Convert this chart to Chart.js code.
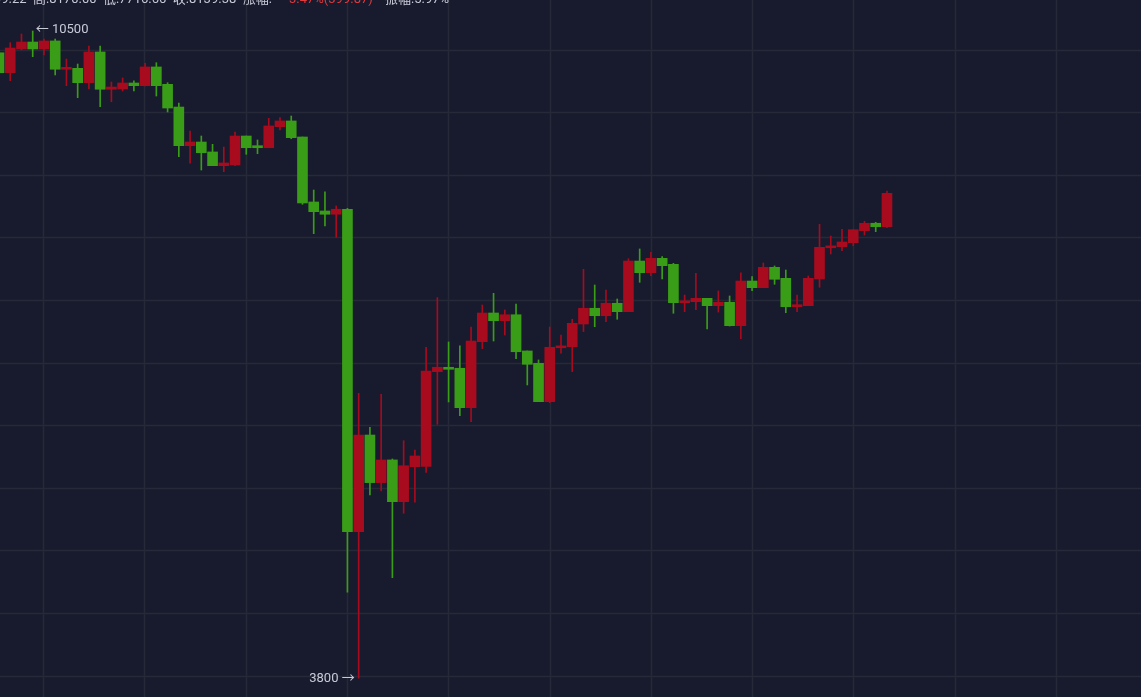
<!DOCTYPE html>
<html><head><meta charset="utf-8">
<script src="https://cdn.jsdelivr.net/npm/chart.js@4/dist/chart.umd.min.js"></script>
<style>html,body{margin:0;padding:0;background:#181b2d;overflow:hidden}#w{width:1141px;height:697px}</style>
</head><body><div id="w"><canvas id="c"></canvas></div>
<script>
const opens  = [10275,10068,10314,10386,10314,10397,10104,10114,9965,10283,9897,9900,9962,9934,10128,9948,9713,9313,9351,9248,9106,9113,9413,9313,9292,9510,9569,9403,8730,8637,8603,8655,5317,6318,5825,6060,5628,5990,5994,6974,7019,7009,6601,7284,7581,7501,7563,7188,7060,6663,7222,7232,7467,7630,7553,7682,7595,8119,7998,8147,8085,7688,7698,7733,7657,7692,7450,7912,7843,8054,7940,7646,7657,7933,8257,8267,8309,8433,8510,8474];
const closes = [10068,10324,10386,10314,10397,10104,10124,9965,10283,9897,9920,9962,9934,10128,9934,9703,9313,9351,9240,9106,9134,9413,9292,9292,9517,9569,9396,8720,8630,8603,8655,5317,6318,5825,6060,5628,6000,6101,6981,7019,6998,6601,7291,7581,7501,7563,7180,7050,6663,7226,7240,7474,7630,7553,7682,7595,8119,7998,8147,8071,7688,7705,7733,7657,7692,7450,7912,7843,8054,7930,7646,7667,7940,8261,8275,8316,8443,8510,8474,8820];
const highs  = [10303,10379,10469,10500,10417,10417,10210,10158,10345,10345,9972,10014,9983,10166,10172,9965,9755,9465,9413,9327,9299,9455,9413,9372,9596,9603,9620,9403,8854,8834,8689,8665,6750,6398,6740,6070,6259,6163,7226,7740,7281,7240,7436,7664,7785,7612,7674,7188,7095,7436,7353,7516,8033,7871,7819,7726,8143,8244,8209,8164,8095,7767,7992,7733,7809,7757,7998,7957,8099,8068,8026,7767,7964,8499,8378,8447,8443,8530,8520,8844];
const lows   = [10045,9986,10305,10234,10252,10045,9934,9810,9900,9717,9768,9879,9879,9931,9827,9662,9199,9131,9061,9106,9044,9106,9224,9230,9292,9475,9385,8706,8402,8482,8365,4690,3800,5697,5739,4841,5508,5622,5932,6429,6660,6518,6456,7212,7291,7353,7108,6836,6663,6653,7164,6974,7388,7439,7491,7516,7595,7899,7967,7933,7578,7595,7615,7415,7591,7446,7315,7812,7843,7878,7584,7595,7657,7847,8192,8226,8278,8388,8423,8465];
const headerParts = [["99.22  高:8170.00  低:7716.66  收:8139.38  涨幅:",-6,"#c8cad8"],["3.47%(399.87)",289,"#e0393e"],["振幅:5.97%",385,"#c8cad8"]];
const maxLabel = "← 10500", minLabel = "3800 →";

const RED="#a80a1e", GREEN="#3a9d17";
const idx = opens.map((_,i)=>i);
const col = idx.map(i=>closes[i]>=opens[i]?RED:GREEN);
const wick = idx.map(i=>({x:i,y:[lows[i],highs[i]]}));
const body = idx.map(i=>{let a=opens[i],b=closes[i];if(Math.abs(a-b)<20){const m=(a+b)/2;a=m-10;b=m+10;}return {x:i,y:[a,b]};});

const deco = {id:'deco',
 beforeDraw(ch){const c=ch.ctx;c.save();c.fillStyle="#181b2d";c.fillRect(0,0,ch.width,ch.height);
  c.strokeStyle="#252938";c.lineWidth=1.5;
  for(let x=43;x<ch.width;x+=101.3){c.beginPath();c.moveTo(Math.round(x)+.5,0);c.lineTo(Math.round(x)+.5,ch.height);c.stroke();}
  for(let y=49.5;y<ch.height;y+=62.6){c.beginPath();c.moveTo(0,Math.round(y)+.5);c.lineTo(ch.width,Math.round(y)+.5);c.stroke();}
  c.restore();},
 afterDraw(ch){const c=ch.ctx,xs=ch.scales.x,ys=ch.scales.y;c.save();
  c.font="13px Roboto, 'Noto Sans CJK SC', sans-serif";c.textBaseline="alphabetic";
  headerParts.forEach(p=>{c.fillStyle=p[2];c.fillText(p[0],p[1],3);});
  const hi=highs.indexOf(Math.max(...highs)), lo=lows.indexOf(Math.min(...lows));
  c.fillStyle="#c8cad8";c.textBaseline="middle";
  c.textAlign="left";c.fillText(maxLabel,xs.getPixelForValue(hi)+3,ys.getPixelForValue(highs[hi])-1);
  c.textAlign="right";c.fillText(minLabel,xs.getPixelForValue(lo)-4,ys.getPixelForValue(lows[lo]));
  c.restore();}};

new Chart(document.getElementById('c'),{type:'bar',
 data:{datasets:[
  {data:wick,backgroundColor:col,barThickness:1,grouped:false,order:2},
  {data:body,backgroundColor:col,barThickness:10,grouped:false,order:1}]},
 options:{responsive:true,maintainAspectRatio:false,animation:false,
  layout:{padding:0},plugins:{legend:{display:false},tooltip:{enabled:false}},
  scales:{x:{type:'linear',min:0.09,max:101.6,display:false,offset:false},
          y:{min:3606,max:10821,display:false}}},
 plugins:[deco]});
</script></body></html>
